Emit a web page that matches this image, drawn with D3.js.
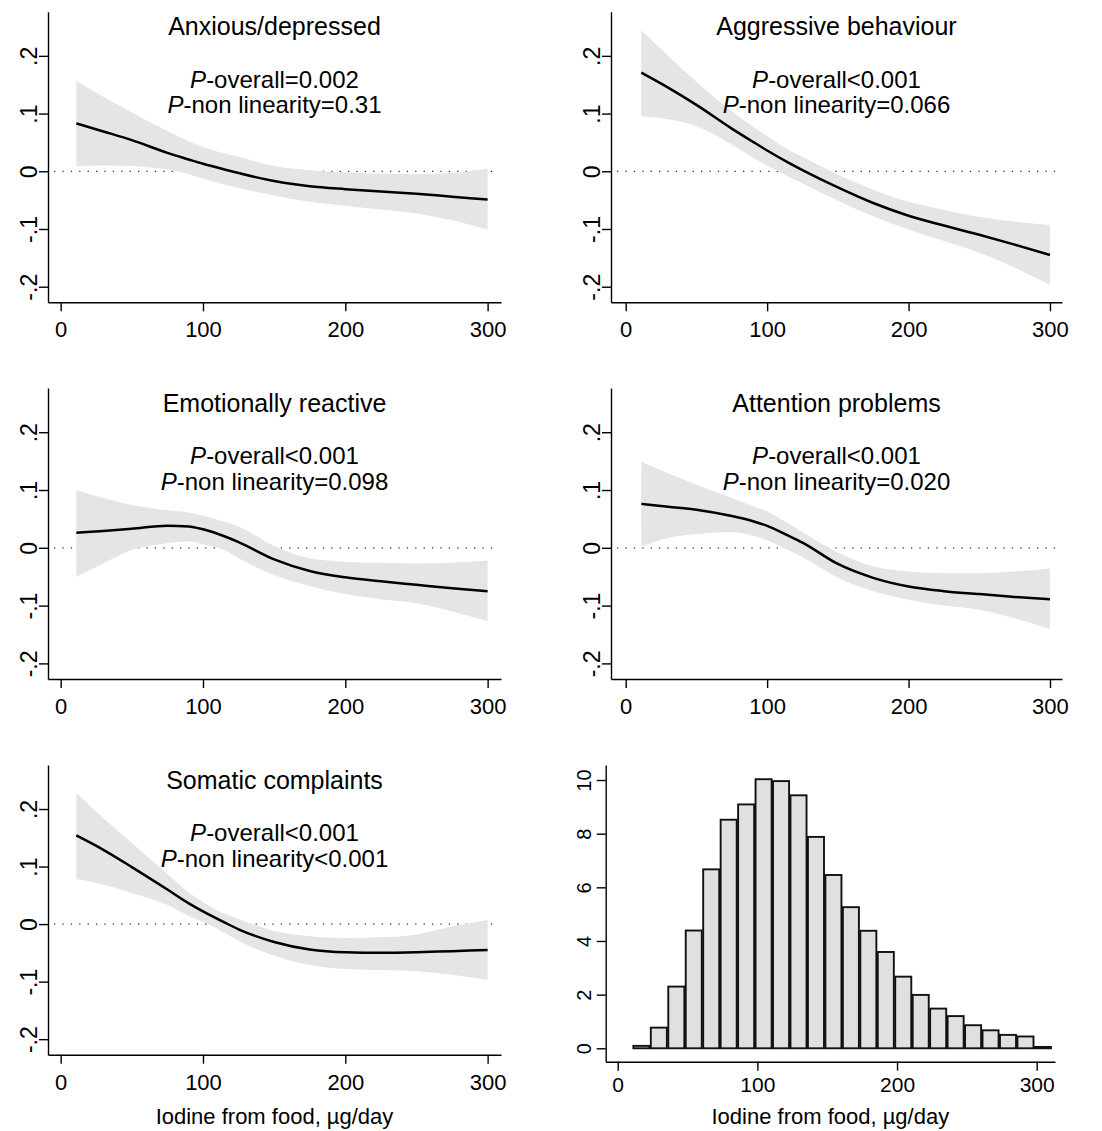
<!DOCTYPE html>
<html>
<head>
<meta charset="utf-8">
<script src="https://cdn.jsdelivr.net/npm/d3@7"></script>
<style>
  body { margin: 0; background: #fff; }
  svg { display: block; font-family: "Liberation Sans", Arial, sans-serif; }
</style>
</head>
<body>
<svg id="chart" width="1102" height="1131"></svg>
<script>
// iodine grid (µg/day) used for every spline panel
const iodine = [11, 30, 50, 75, 90, 100, 115, 125, 150, 175, 200, 225, 250, 275, 300];

const anxEst = [0.083, 0.069, 0.054, 0.032, 0.0205, 0.013, 0.0032, -0.003, -0.017, -0.026, -0.031, -0.035, -0.039, -0.044, -0.049];
const anxHi  = [0.157, 0.129, 0.102, 0.070, 0.052, 0.042, 0.031, 0.025, 0.009, 0.002, -0.002, -0.004, -0.005, -0.003, 0.005];
const anxLo  = [0.009, 0.010, 0.009, 0.003, -0.005, -0.013, -0.023, -0.029, -0.042, -0.053, -0.060, -0.066, -0.073, -0.085, -0.101];

const aggEst = [0.171, 0.145, 0.115, 0.074, 0.051, 0.036, 0.015, 0.002, -0.028, -0.055, -0.077, -0.094, -0.110, -0.127, -0.145];
const aggHi  = [0.245, 0.200, 0.155, 0.104, 0.077, 0.061, 0.037, 0.025, -0.006, -0.032, -0.053, -0.067, -0.079, -0.087, -0.093];
const aggLo  = [0.096, 0.090, 0.078, 0.046, 0.024, 0.010, -0.009, -0.021, -0.051, -0.078, -0.101, -0.121, -0.141, -0.167, -0.197];

const emoEst = [0.026, 0.029, 0.033, 0.038, 0.037, 0.032, 0.020, 0.010, -0.020, -0.040, -0.051, -0.058, -0.064, -0.070, -0.075];
const emoHi  = [0.100, 0.086, 0.074, 0.065, 0.061, 0.056, 0.045, 0.037, 0.003, -0.018, -0.024, -0.026, -0.027, -0.026, -0.022];
const emoLo  = [-0.050, -0.027, -0.004, 0.008, 0.011, 0.006, -0.004, -0.018, -0.047, -0.066, -0.080, -0.089, -0.096, -0.110, -0.127];

const attEst = [0.076, 0.071, 0.066, 0.055, 0.046, 0.038, 0.021, 0.009, -0.028, -0.052, -0.067, -0.075, -0.080, -0.085, -0.089];
const attHi  = [0.149, 0.129, 0.109, 0.086, 0.072, 0.063, 0.042, 0.027, -0.008, -0.032, -0.041, -0.044, -0.044, -0.041, -0.036];
const attLo  = [0.002, 0.017, 0.024, 0.027, 0.021, 0.013, -0.004, -0.016, -0.052, -0.075, -0.090, -0.100, -0.107, -0.122, -0.141];

const somEst = [0.154, 0.129, 0.099, 0.060, 0.036, 0.022, 0.003, -0.009, -0.031, -0.044, -0.049, -0.050, -0.049, -0.047, -0.045];
const somHi  = [0.228, 0.184, 0.141, 0.087, 0.055, 0.038, 0.018, 0.009, -0.012, -0.021, -0.024, -0.023, -0.018, -0.004, 0.007];
const somLo  = [0.078, 0.069, 0.054, 0.033, 0.014, 0.004, -0.015, -0.029, -0.055, -0.071, -0.078, -0.080, -0.082, -0.088, -0.097];

const titles   = ["Anxious/depressed", "Aggressive behaviour", "Emotionally reactive", "Attention problems", "Somatic complaints"];
const pOverall = ["=0.002", "<0.001", "<0.001", "<0.001", "<0.001"];
const pNonlin  = ["=0.31", "=0.066", "=0.098", "=0.020", "<0.001"];

// histogram: density (%) per 12.5 µg/day bin
const histDensity = [0.09, 0.77, 2.30, 4.39, 6.67, 8.52, 9.09, 10.03, 9.96, 9.43, 7.88, 6.46,
                     5.26, 4.38, 3.59, 2.67, 1.99, 1.48, 1.20, 0.86, 0.67, 0.50, 0.44, 0.05];
const binStart = 10.7, binWidth = 12.5;

const xTicks = [0, 100, 200, 300];
const yTicks = [-0.2, -0.1, 0, 0.1, 0.2];
const yTickLabels = ["-.2", "-.1", "0", ".1", ".2"];
const histYTicks = [0, 2, 4, 6, 8, 10];

const xTitle = "Iodine from food, \u00b5g/day";

const svg = d3.select("#chart");

const cols = [
  {x0: 48, x1: 501, dom: [-8.9, 309.4]},
  {x0: 611, x1: 1062, dom: [-10.4, 308.5]}
];
const rows = [
  {y0: 11.7, y1: 302.3},
  {y0: 388, y1: 679},
  {y0: 765, y1: 1054.7}
];

const series = [
  [anxEst, anxLo, anxHi],
  [aggEst, aggLo, aggHi],
  [emoEst, emoLo, emoHi],
  [attEst, attLo, attHi],
  [somEst, somLo, somHi]
];

function styleAxis(g) {
  g.selectAll("path.domain").attr("stroke", "#000").attr("stroke-width", 1.4);
  g.selectAll(".tick line").attr("stroke", "#000").attr("stroke-width", 1.4);
  g.selectAll(".tick text").attr("fill", "#000");
}

function drawSpline(i) {
  const col = cols[i % 2], row = rows[Math.floor(i / 2)];
  const [est, lo, hi] = series[i];
  const x = d3.scaleLinear().domain(col.dom).range([col.x0, col.x1]);
  const y = d3.scaleLinear().domain([-0.227, 0.2765]).range([row.y1, row.y0]);
  const g = svg.append("g");
  const pts = iodine.map((v, k) => ({x: v, est: est[k], lo: lo[k], hi: hi[k]}));

  // reference line at 0
  g.append("line")
    .attr("x1", col.x0 + 6).attr("x2", col.x1 - 4)
    .attr("y1", y(0)).attr("y2", y(0))
    .attr("stroke", "#333").attr("stroke-width", 1.3)
    .attr("stroke-dasharray", "1.3 7.1");

  g.append("path")
    .datum(pts)
    .attr("fill", "#e5e5e5")
    .attr("d", d3.area().x(d => x(d.x)).y0(d => y(d.lo)).y1(d => y(d.hi)).curve(d3.curveMonotoneX));

  g.append("path")
    .datum(pts)
    .attr("fill", "none")
    .attr("stroke", "#000")
    .attr("stroke-width", 2.5)
    .attr("d", d3.line().x(d => x(d.x)).y(d => y(d.est)).curve(d3.curveMonotoneX));

  const xa = g.append("g")
    .attr("transform", `translate(0,${row.y1})`)
    .call(d3.axisBottom(x).tickValues(xTicks).tickSize(9).tickSizeOuter(0));
  xa.selectAll(".tick text").attr("y", 35).attr("dy", 0).style("font-size", "22px");
  styleAxis(xa);

  const ya = g.append("g")
    .attr("transform", `translate(${col.x0},0)`)
    .call(d3.axisLeft(y).tickValues(yTicks).tickFormat((d, k) => yTickLabels[k]).tickSize(9).tickSizeOuter(0));
  ya.selectAll(".tick text")
    .attr("transform", "rotate(-90)")
    .attr("x", 0).attr("y", -11).attr("dy", 0)
    .attr("text-anchor", "middle")
    .style("font-size", "23px");
  styleAxis(ya);

  const cx = (col.x0 + col.x1) / 2;
  g.append("text")
    .attr("x", cx).attr("y", row.y0 + 23.5)
    .attr("text-anchor", "middle").style("font-size", "25px")
    .text(titles[i]);
  const l1 = g.append("text")
    .attr("x", cx).attr("y", row.y0 + 76)
    .attr("text-anchor", "middle").style("font-size", "24px");
  l1.append("tspan").style("font-style", "italic").text("P");
  l1.append("tspan").text("-overall" + pOverall[i]);
  const l2 = g.append("text")
    .attr("x", cx).attr("y", row.y0 + 101.5)
    .attr("text-anchor", "middle").style("font-size", "24px");
  l2.append("tspan").style("font-style", "italic").text("P");
  l2.append("tspan").text("-non linearity" + pNonlin[i]);

  if (i === 4) {
    g.append("text")
      .attr("x", cx).attr("y", 1124)
      .attr("text-anchor", "middle").style("font-size", "22px")
      .text(xTitle);
  }
}

for (let i = 0; i < 5; i++) drawSpline(i);

// histogram panel
(function drawHist() {
  const hx = d3.scaleLinear().domain([-8.6, 313.1]).range([605.7, 1055]);
  const hy = d3.scaleLinear().domain([-0.5, 10.56]).range([1061.7, 765]);
  const g = svg.append("g");

  g.selectAll("rect")
    .data(histDensity)
    .join("rect")
    .attr("x", (d, k) => hx(binStart + k * binWidth) + 0.7)
    .attr("width", hx(binStart + binWidth) - hx(binStart) - 1.4)
    .attr("y", d => hy(d))
    .attr("height", d => hy(0) - hy(d))
    .attr("fill", "#e0e0e0")
    .attr("stroke", "#111")
    .attr("stroke-width", 1.9);

  const xa = g.append("g")
    .attr("transform", "translate(0,1061.7)")
    .call(d3.axisBottom(hx).tickValues(xTicks).tickSize(9).tickSizeOuter(0));
  xa.selectAll(".tick text").attr("y", 30).attr("dy", 0).style("font-size", "21px");
  styleAxis(xa);

  const ya = g.append("g")
    .attr("transform", "translate(605.7,0)")
    .call(d3.axisLeft(hy).tickValues(histYTicks).tickSize(9).tickSizeOuter(0));
  ya.selectAll(".tick text")
    .attr("transform", "rotate(-90)")
    .attr("x", 0).attr("y", -15).attr("dy", 0)
    .attr("text-anchor", "middle")
    .style("font-size", "20px");
  styleAxis(ya);

  g.append("text")
    .attr("x", (605.7 + 1055) / 2).attr("y", 1124)
    .attr("text-anchor", "middle").style("font-size", "22px")
    .text(xTitle);
})();
</script>
</body>
</html>
